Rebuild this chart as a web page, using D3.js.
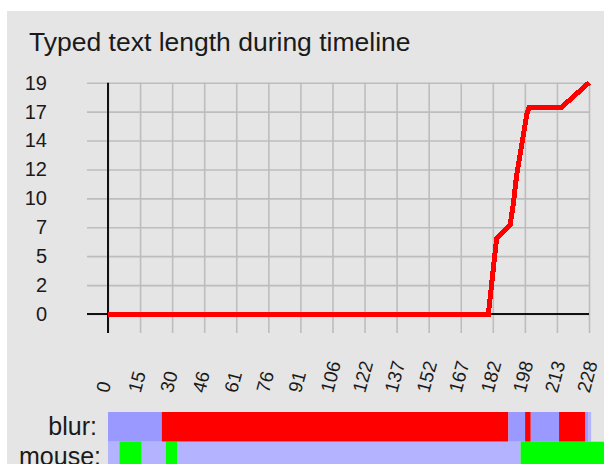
<!DOCTYPE html>
<html>
<head>
<meta charset="utf-8">
<script src="https://cdn.jsdelivr.net/npm/d3@7"></script>
<style>
  body { margin: 0; background: #fff; }
  svg { display: block; font-family: "Liberation Sans", Arial, sans-serif; }
</style>
</head>
<body>
<script>
// typed text length over time
var times   = [0, 180.3, 184.2, 185.8, 190.6, 192.1, 193.7, 196.1, 198.5, 199.7, 215.1, 228];
var lengths = [0, 0, 6.2, 6.5, 7.3, 9.0, 11.4, 13.9, 16.4, 17, 17, 19];

// tick values (labels are rounded)
var xTicks = d3.range(16).map(function(i) { return i * 228 / 15 });
var yTicks = d3.range(9).map(function(i) { return i * 19 / 8 });

// blur state timeline
var blurStart = [0, 25.5, 189.8, 197.7, 200.4, 213.8, 226.1, 227.7];
var blurEnd   = [25.5, 189.8, 197.7, 200.4, 213.8, 226.1, 227.7, 229];
var blurState = ["off", "on", "off", "on", "off", "on", "off", "none"];

// mouse state timeline
var mouseStart = [0, 5.4, 16.0, 27.4, 33.0, 195.6];
var mouseEnd   = [5.4, 16.0, 27.4, 33.0, 195.6, 240];
var mouseState = ["idle", "active", "idle", "active", "idle", "active"];

var colors = {off: "#9999ff", on: "#ff0000", none: "#b3b3ff", idle: "#b3b3ff", active: "#00ff00"};

var W = 604, H = 464;

var svg = d3.select("body").append("svg")
    .attr("width", W)
    .attr("height", H);

// panel
svg.append("rect")
    .attr("x", 7).attr("y", 11)
    .attr("width", W - 7).attr("height", H - 11)
    .attr("fill", "#e5e5e5");

svg.append("text")
    .attr("x", 29).attr("y", 51)
    .attr("font-size", 26.5)
    .attr("fill", "#1a1a1a")
    .text("Typed text length during timeline");

var x = d3.scaleLinear()
    .domain([0, 228])
    .range([108, 589]);

var y = d3.scaleLinear()
    .domain([0, 19])
    .range([314, 82.7]);

var ext = 21;

// horizontal grid + y labels
var yAxis = svg.append("g")
    .attr("transform", "translate(" + (x(0) - ext) + ",0)")
    .call(d3.axisLeft(y)
        .tickValues(yTicks)
        .tickSize(-(x(228) - x(0) + ext))
        .tickPadding(40)
        .tickFormat(function(d) { return Math.round(d) }));
yAxis.select(".domain").remove();
yAxis.selectAll("line").attr("stroke", "#bdbdbd").attr("stroke-width", 1.6);
yAxis.selectAll("text")
    .attr("font-size", 20)
    .attr("font-family", "Liberation Sans, Arial, sans-serif")
    .attr("fill", "#1a1a1a");

// vertical grid
var xAxis = svg.append("g")
    .attr("transform", "translate(0," + (y(0) + 19) + ")")
    .call(d3.axisBottom(x)
        .tickValues(xTicks)
        .tickSize(-(y(0) + 19 - y(19)))
        .tickFormat(""));
xAxis.select(".domain").remove();
xAxis.selectAll("line").attr("stroke", "#bdbdbd").attr("stroke-width", 1.6);

// rotated x labels
svg.append("g").selectAll("text")
    .data(xTicks)
    .enter().append("text")
    .attr("transform", function(d) { return "translate(" + (x(d) - 6) + ",392) rotate(-75)" })
    .attr("dy", "0.35em")
    .attr("font-size", 19)
    .attr("fill", "#1a1a1a")
    .text(function(d) { return Math.round(d) });

// axis lines
svg.append("line")
    .attr("x1", x(0)).attr("x2", x(0))
    .attr("y1", y(19)).attr("y2", y(0) + 19)
    .attr("stroke", "#111").attr("stroke-width", 2);
svg.append("line")
    .attr("x1", x(0) - ext).attr("x2", x(228))
    .attr("y1", y(0)).attr("y2", y(0))
    .attr("stroke", "#111").attr("stroke-width", 2);

// length line
var line = d3.line()
    .x(function(d, i) { return x(times[i]) })
    .y(function(d) { return y(d) });

svg.append("path")
    .datum(lengths)
    .attr("fill", "none")
    .attr("stroke", "#ff0000")
    .attr("stroke-width", 5)
    .attr("shape-rendering", "crispEdges")
    .attr("d", line);

// state bars
var rowH = 29.7;
function bars(starts, ends, states, top) {
    svg.append("g").selectAll("rect")
        .data(starts)
        .enter().append("rect")
        .attr("x", function(d) { return x(d) })
        .attr("width", function(d, i) { return x(ends[i]) - x(d) })
        .attr("y", top)
        .attr("height", rowH)
        .attr("fill", function(d, i) { return colors[states[i]] });
}
bars(blurStart, blurEnd, blurState, 412);
bars(mouseStart, mouseEnd, mouseState, 412 + rowH);

svg.append("text")
    .attr("x", 97).attr("y", 435)
    .attr("text-anchor", "end")
    .attr("font-size", 25)
    .attr("fill", "#1a1a1a")
    .text("blur:");
svg.append("text")
    .attr("x", 101).attr("y", 465)
    .attr("text-anchor", "end")
    .attr("font-size", 25)
    .attr("fill", "#1a1a1a")
    .text("mouse:");
</script>
</body>
</html>
